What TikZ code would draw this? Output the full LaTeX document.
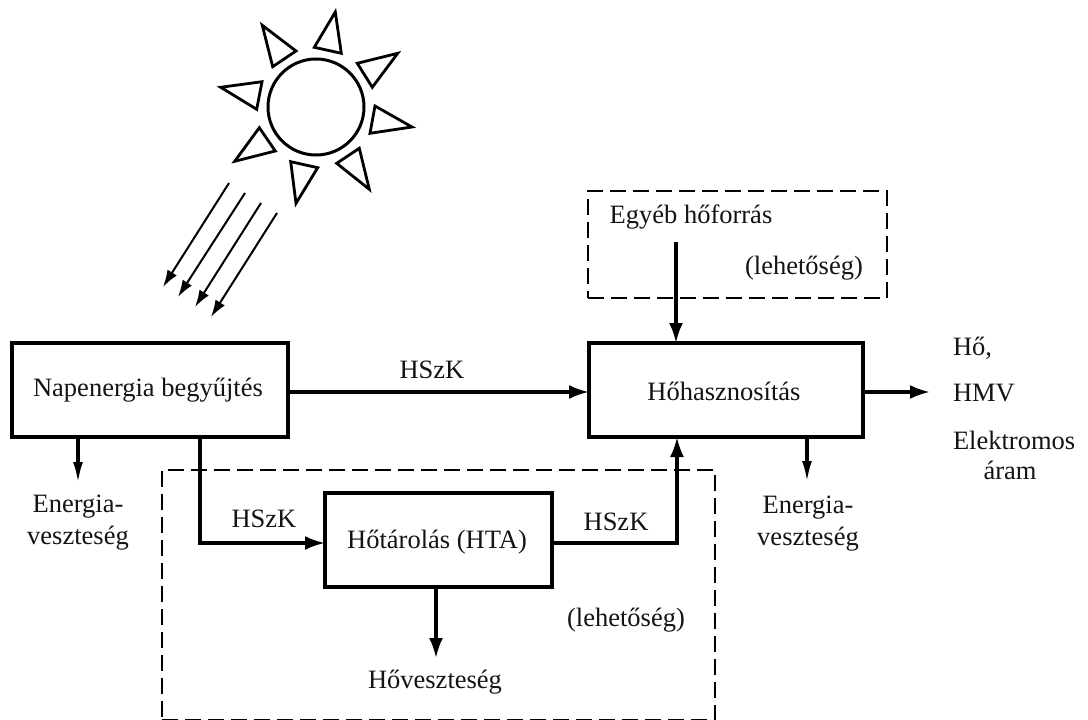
\documentclass[tikz,border=0pt]{standalone}
\usepackage{fontspec}
\setmainfont{Liberation Serif}
\usetikzlibrary{arrows.meta}
\tikzset{
  x=1pt,y=-1pt,
  every node/.style={inner sep=0pt,outer sep=0pt},
  txt/.style={font=\fontsize{26.5}{32}\selectfont,align=center,text=black!92},
  solidbox/.style={draw,line width=3.1pt,fill=none,line join=miter},
  dashbox/.style={draw,line width=2.7pt,dash pattern=on 16pt off 7pt,fill=none},
  flow/.style={line width=3.1pt,-{Latex[length=20pt,width=14pt]}},
  narrowflow/.style={line width=3.1pt,-{Latex[length=21pt,width=10pt]}},
  ray/.style={line width=2pt,-{Latex[length=17pt,width=11pt]}},
  flare/.style={draw,line width=2.8pt,line join=miter},
}
\begin{document}
\begin{tikzpicture}
\useasboundingbox (0,0) rectangle (1088,720);
\fill[white] (0,0) rectangle (1088,720);
% dashed regions
\node[dashbox,minimum width=553pt,minimum height=250pt] (lower) at (438.5,595) {};
\node[dashbox,minimum width=299pt,minimum height=107pt] (upper) at (737.5,244.5) {};
% boxes
\node[solidbox,minimum width=276pt,minimum height=94pt] (collect) at (150,390) {};
\node[txt] at (148,390) {Napenergia begyűjtés};
\node[solidbox,minimum width=274pt,minimum height=94pt] (use) at (726,390) {};
\node[txt] at (724,391) {Hőhasznosítás};
\node[solidbox,minimum width=227pt,minimum height=94pt] (store) at (438.5,540) {};
\node[txt] at (437,542) {Hőtárolás (HTA)};
% sun
\node[draw,circle,line width=3pt,minimum size=96pt] (sun) at (316,107) {};
\draw[flare] (262.3,25.3) -- (296,51) -- (272.7,66.7) -- cycle;
\draw[flare] (335.3,12) -- (341.3,53.3) -- (314.3,47.3) -- cycle;
\draw[flare] (397.7,53.3) -- (357.3,63.3) -- (372.3,87.3) -- cycle;
\draw[flare] (412,127) -- (375,106) -- (370,133.3) -- cycle;
\draw[flare] (369.3,189.3) -- (359.3,148.3) -- (336.7,163.3) -- cycle;
\draw[flare] (296,203.3) -- (317.7,167.7) -- (290.7,161.7) -- cycle;
\draw[flare] (234.7,161.3) -- (275.3,151) -- (259.3,127.7) -- cycle;
\draw[flare] (220.7,87.3) -- (262,81.7) -- (256.7,109.3) -- cycle;
% rays
\coordinate (r1a) at (229,183); \coordinate (r1b) at (163,287);
\coordinate (r2a) at (245,193); \coordinate (r2b) at (178,297);
\coordinate (r3a) at (261,203); \coordinate (r3b) at (195,307);
\coordinate (r4a) at (277,213); \coordinate (r4b) at (211,317);
\draw[ray] (r1a) -- (r1b);
\draw[ray] (r2a) -- (r2b);
\draw[ray] (r3a) -- (r3b);
\draw[ray] (r4a) -- (r4b);
% labels
\node[txt] (lossa) at (78,523) {Energia-\\veszteség};
\node[txt] (lossb) at (808,524) {Energia-\\veszteség};
\node[txt] (hloss) at (435,682) {Hőveszteség};
\node[txt] (src) at (691,217) {Egyéb hőforrás};
\node[txt] at (804,268) {(lehetőség)};
\node[txt] at (626,620) {(lehetőség)};
\node[txt] at (432,370) {HSzK};
\node[txt] at (264,519) {HSzK};
\node[txt] at (616,522) {HSzK};
\node[txt,anchor=west] (ha) at (953,348) {Hő,};
\node[txt,anchor=west] (hb) at (953,393) {HMV};
\node[txt,anchor=west] (hc) at (953,440) {Elektromos};
\node[txt] (hd) at (1010,470) {áram};
% connectors
\coordinate (srcend) at (676,242);
\coordinate (outend) at (930,392);
\coordinate (lossaend) at (78,483);
\coordinate (lossbend) at (807,482);
\coordinate (hlossend) at (436,658);
\draw[flow] (collect.east |- 0,392) -- (use.west |- 0,392);
\draw[flow] (srcend) -- (use.north -| srcend);
\draw[flow] (use.east |- outend) -- (outend);
\draw[narrowflow] (lossbend |- use.south) -- (lossbend);
\draw[narrowflow] (lossaend |- collect.south) -- (lossaend);
\coordinate (branch) at (200,437);
\draw[flow] (branch |- collect.south) -- (200,543) -- (store.west |- 0,543);
\draw[flow] (store.east |- 0,543) -- (677,543) -- (677,437);
\draw[flow] (hlossend |- store.south) -- (hlossend);
\end{tikzpicture}
\end{document}
